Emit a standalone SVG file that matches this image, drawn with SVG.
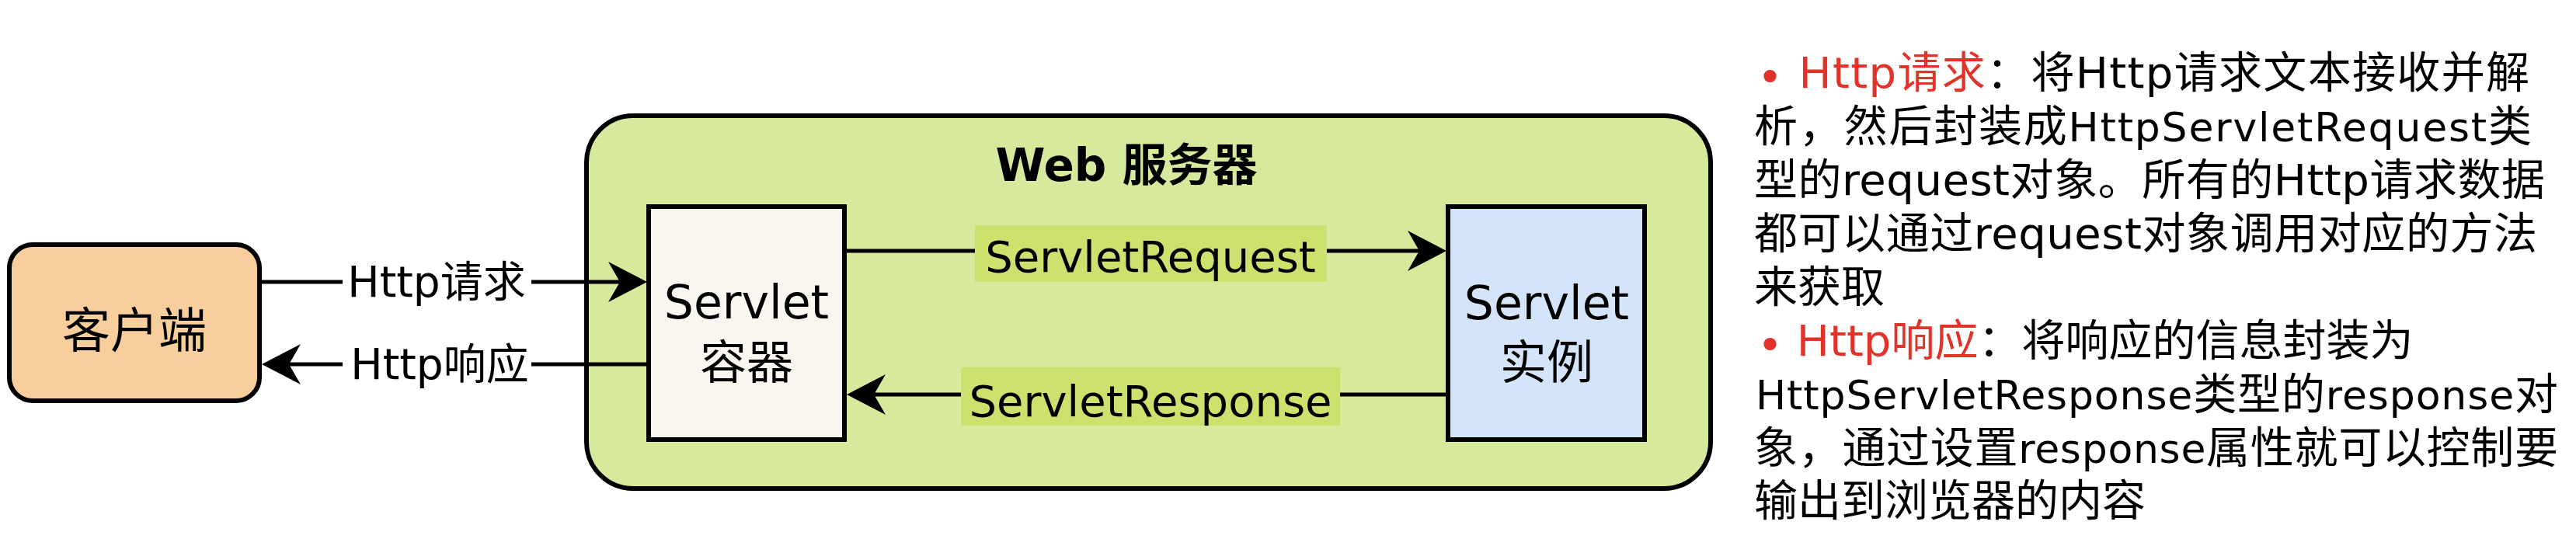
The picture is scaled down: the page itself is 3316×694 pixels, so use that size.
<svg xmlns="http://www.w3.org/2000/svg" width="3316" height="694" viewBox="0 0 3316 694">
<style>
.t{font-family:'DejaVu Sans','Noto Sans CJK SC',sans-serif;fill:#000}
.box{stroke:#000;stroke-width:6}
.ln{stroke:#000;stroke-width:5;fill:none}
.red{fill:#E1332A}
.sm{font-size:52px}
</style>
<defs>
<marker id="arr" markerUnits="userSpaceOnUse" viewBox="0 0 50 52" markerWidth="50" markerHeight="52" refX="15" refY="26" orient="auto">
<path d="M0,0 L50,26 L0,52 L15,26 Z" fill="#000"/>
</marker>
</defs>
<rect width="3316" height="694" fill="#fff"/>
<g id="client">
<rect class="box" x="12" y="315" width="322" height="201" rx="30" fill="#F7CE9C"/>
<text class="t" x="173" y="448" font-size="62" text-anchor="middle">客户端</text>
</g>
<g id="web-server">
<rect class="box" x="755" y="149" width="1447" height="480" rx="60" fill="#D6E99C"/>
<text class="t" x="1450" y="233" font-size="58" font-weight="bold" text-anchor="middle">Web 服务器</text>
</g>
<g id="servlet-container">
<rect class="box" x="835" y="266" width="252" height="300" fill="#F8F6EF"/>
<text class="t" x="961" y="410" font-size="60" text-anchor="middle">Servlet</text>
<text class="t" x="961" y="488" font-size="60" text-anchor="middle">容器</text>
</g>
<g id="servlet-instance">
<rect class="box" x="1864" y="266" width="253" height="300" fill="#D4E5F9"/>
<text class="t" x="1991" y="411" font-size="60" text-anchor="middle">Servlet</text>
<text class="t" x="1991" y="488" font-size="60" text-anchor="middle">实例</text>
</g>
<g id="connectors">
<path class="ln" d="M337 363 H798" marker-end="url(#arr)"/>
<path class="ln" d="M832 469 H372" marker-end="url(#arr)"/>
<path class="ln" d="M1088 323 H1827" marker-end="url(#arr)"/>
<path class="ln" d="M1864 508 H1125" marker-end="url(#arr)"/>
<rect x="441" y="335" width="243" height="60" fill="#fff"/>
<text class="t" x="562" y="382" font-size="55" text-anchor="middle">Http请求</text>
<rect x="441" y="441" width="243" height="60" fill="#fff"/>
<text class="t" x="566" y="488" font-size="55" text-anchor="middle">Http响应</text>
<rect x="1255" y="290" width="453" height="73" fill="#CDE16E"/>
<text class="t" x="1481" y="350" font-size="56" text-anchor="middle">ServletRequest</text>
<rect x="1237" y="473" width="488" height="75" fill="#CDE16E"/>
<text class="t" x="1481" y="536" font-size="56" text-anchor="middle">ServletResponse</text>
</g>
<g id="description" font-size="56">
<text class="t" x="2262" y="113" textLength="994" lengthAdjust="spacing"><tspan class="red" dy="6">•</tspan><tspan class="red" dy="-6"> Http请求</tspan>：将Http请求文本接收并解</text>
<text class="t" x="2258" y="182" textLength="1001" lengthAdjust="spacing">析，然后封装成<tspan class="sm">HttpServletRequest</tspan>类</text>
<text class="t" x="2258" y="251" textLength="1018" lengthAdjust="spacing">型的request对象。所有的Http请求数据</text>
<text class="t" x="2258" y="320" textLength="1008" lengthAdjust="spacing">都可以通过request对象调用对应的方法</text>
<text class="t" x="2258" y="389">来获取</text>
<text class="t" x="2262" y="458"><tspan class="red" dy="6">•</tspan><tspan class="red" dy="-6"> Http响应</tspan>：将响应的信息封装为</text>
<text class="t" x="2260" y="527" textLength="1033" lengthAdjust="spacing"><tspan class="sm">HttpServletResponse</tspan>类型的<tspan class="sm">response</tspan>对</text>
<text class="t" x="2258" y="596" textLength="1035" lengthAdjust="spacing">象，通过设置<tspan class="sm">response</tspan>属性就可以控制要</text>
<text class="t" x="2258" y="664">输出到浏览器的内容</text>
</g>
</svg>
